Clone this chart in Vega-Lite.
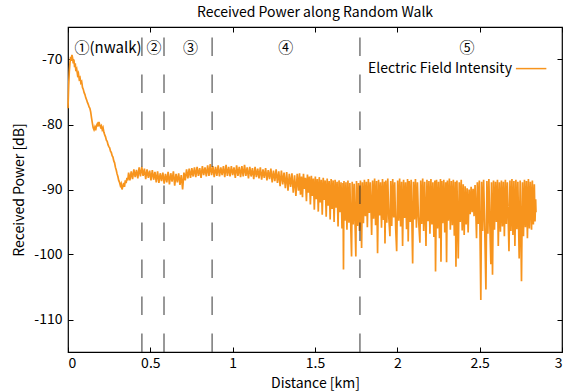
{
"$schema": "https://vega.github.io/schema/vega-lite/v6.json",
"width": 494, "height": 325,
"autosize": {"type": "none"},
"padding": {"left": 68, "top": 27, "right": 12, "bottom": 39},
"title": {"text": "Received Power along Random Walk", "fontSize": 14, "fontWeight": "normal", "offset": 7, "font": "Noto Sans CJK JP", "color": "black"},
"config": {
  "view": {"stroke": "black", "strokeWidth": 1.2},
  "font": "Noto Sans CJK JP",
  "axis": {"grid": false, "domain": false, "tickColor": "black", "tickSize": -5, "tickWidth": 1, "labelFontSize": 14, "labelColor": "black", "labelFont": "Noto Sans CJK JP", "titleFont": "Noto Sans CJK JP", "titleFontSize": 14, "titleFontWeight": "normal", "titleColor": "black"}
},
"resolve": {"axis": {"x": "independent", "y": "independent"}},
"datasets": {
"signal": [
{"km":0,"dB":-77.5},{"km":0.004,"dB":-74},{"km":0.008,"dB":-71.8},{"km":0.012,"dB":-70.5},{"km":0.016,"dB":-69.6},{"km":0.02,"dB":-70.2},{"km":0.024,"dB":-69.3},{"km":0.028,"dB":-69.8},{"km":0.032,"dB":-70.6},{"km":0.036,"dB":-70.0},{"km":0.04,"dB":-71.2},{"km":0.044,"dB":-70.6},{"km":0.048,"dB":-71.8},{"km":0.053,"dB":-71.5},{"km":0.058,"dB":-72.4},{"km":0.063,"dB":-72.1},{"km":0.068,"dB":-73.0},{"km":0.073,"dB":-72.8},{"km":0.078,"dB":-73.6},{"km":0.083,"dB":-73.4},{"km":0.088,"dB":-74.3},{"km":0.093,"dB":-74.6},{"km":0.098,"dB":-75.1},{"km":0.103,"dB":-75.4},{"km":0.108,"dB":-75.9},{"km":0.113,"dB":-76.2},{"km":0.118,"dB":-76.6},{"km":0.123,"dB":-76.9},{"km":0.128,"dB":-77.3},{"km":0.133,"dB":-77.5},{"km":0.138,"dB":-78.1},{"km":0.143,"dB":-79.0},{"km":0.148,"dB":-79.8},{"km":0.153,"dB":-80.5},{"km":0.158,"dB":-80.8},{"km":0.163,"dB":-80.4},{"km":0.168,"dB":-80.9},{"km":0.173,"dB":-80.2},{"km":0.178,"dB":-79.9},{"km":0.183,"dB":-80.3},{"km":0.188,"dB":-79.6},{"km":0.193,"dB":-80.1},{"km":0.198,"dB":-80.4},{"km":0.203,"dB":-80.2},{"km":0.208,"dB":-80.8},{"km":0.213,"dB":-80.5},{"km":0.218,"dB":-81.2},{"km":0.223,"dB":-81.6},{"km":0.228,"dB":-81.9},{"km":0.233,"dB":-82.4},{"km":0.238,"dB":-82.6},{"km":0.243,"dB":-83.1},{"km":0.248,"dB":-83.4},{"km":0.253,"dB":-83.6},{"km":0.258,"dB":-84.1},{"km":0.263,"dB":-84.3},{"km":0.268,"dB":-84.8},{"km":0.273,"dB":-85.0},{"km":0.278,"dB":-85.6},{"km":0.283,"dB":-85.9},{"km":0.288,"dB":-86.6},{"km":0.293,"dB":-87.0},{"km":0.298,"dB":-87.6},{"km":0.303,"dB":-88.0},{"km":0.308,"dB":-88.6},{"km":0.313,"dB":-88.9},{"km":0.318,"dB":-89.4},{"km":0.323,"dB":-89.1},{"km":0.328,"dB":-90.0},{"km":0.333,"dB":-89.5},{"km":0.338,"dB":-89.0},{"km":0.343,"dB":-89.6},{"km":0.348,"dB":-88.6},{"km":0.353,"dB":-89.0},{"km":0.358,"dB":-88.2},{"km":0.363,"dB":-88.6},
{"km":0.368,"dB":-87.4},{"km":0.376,"dB":-88.6},{"km":0.384,"dB":-87.2},{"km":0.392,"dB":-88.4},{"km":0.400,"dB":-86.9},{"km":0.408,"dB":-88.1},{"km":0.416,"dB":-87.0},{"km":0.424,"dB":-88.3},{"km":0.432,"dB":-86.6},{"km":0.440,"dB":-88.0},{"km":0.448,"dB":-86.5},{"km":0.456,"dB":-87.9},{"km":0.464,"dB":-86.8},{"km":0.472,"dB":-88.4},{"km":0.480,"dB":-86.9},{"km":0.488,"dB":-88.2},{"km":0.496,"dB":-87.1},{"km":0.504,"dB":-88.6},{"km":0.512,"dB":-87.0},{"km":0.520,"dB":-88.5},{"km":0.528,"dB":-87.3},{"km":0.536,"dB":-88.9},{"km":0.544,"dB":-87.2},{"km":0.552,"dB":-89.0},{"km":0.560,"dB":-87.5},{"km":0.568,"dB":-88.7},{"km":0.576,"dB":-87.4},{"km":0.584,"dB":-89.1},{"km":0.592,"dB":-87.6},{"km":0.600,"dB":-88.9},{"km":0.608,"dB":-87.3},{"km":0.616,"dB":-89.2},{"km":0.624,"dB":-87.5},{"km":0.632,"dB":-88.8},{"km":0.640,"dB":-87.2},{"km":0.648,"dB":-89.4},{"km":0.656,"dB":-87.6},{"km":0.664,"dB":-88.9},{"km":0.672,"dB":-87.5},{"km":0.680,"dB":-89.3},{"km":0.688,"dB":-87.8},{"km":0.696,"dB":-90.0},{"km":0.704,"dB":-87.4},{"km":0.712,"dB":-88.6},{"km":0.720,"dB":-86.9},{"km":0.728,"dB":-88.3},{"km":0.736,"dB":-86.8},{"km":0.744,"dB":-88.2},{"km":0.752,"dB":-86.7},{"km":0.760,"dB":-88.0},{"km":0.768,"dB":-86.6},{"km":0.776,"dB":-88.1},{"km":0.784,"dB":-86.5},{"km":0.792,"dB":-87.9},{"km":0.800,"dB":-86.7},{"km":0.808,"dB":-88.2},{"km":0.816,"dB":-86.4},{"km":0.824,"dB":-87.8},{"km":0.832,"dB":-86.6},{"km":0.840,"dB":-88.0},{"km":0.848,"dB":-86.3},{"km":0.856,"dB":-87.9},{"km":0.864,"dB":-86.1},{"km":0.872,"dB":-87.8},{"km":0.880,"dB":-86.4},{"km":0.888,"dB":-88.1},{"km":0.896,"dB":-86.5},{"km":0.904,"dB":-87.9},{"km":0.912,"dB":-86.3},{"km":0.920,"dB":-88.0},{"km":0.928,"dB":-86.6},{"km":0.936,"dB":-87.8},{"km":0.944,"dB":-86.4},{"km":0.952,"dB":-88.1},{"km":0.960,"dB":-86.2},{"km":0.968,"dB":-87.9},{"km":0.976,"dB":-86.5},{"km":0.984,"dB":-88.0},{"km":0.992,"dB":-86.4},{"km":1.000,"dB":-87.8},{"km":1.008,"dB":-86.6},{"km":1.016,"dB":-88.2},{"km":1.024,"dB":-86.3},{"km":1.032,"dB":-87.9},{"km":1.040,"dB":-86.5},{"km":1.048,"dB":-88.1},{"km":1.056,"dB":-86.4},{"km":1.064,"dB":-88.0},{"km":1.072,"dB":-86.2},{"km":1.080,"dB":-87.9},{"km":1.088,"dB":-86.6},{"km":1.096,"dB":-88.3},{"km":1.104,"dB":-86.5},{"km":1.112,"dB":-88.0},{"km":1.120,"dB":-86.7},{"km":1.128,"dB":-88.4},{"km":1.136,"dB":-86.5},{"km":1.144,"dB":-88.1},{"km":1.152,"dB":-86.8},{"km":1.160,"dB":-88.3},{"km":1.168,"dB":-86.6},{"km":1.176,"dB":-88.5},{"km":1.184,"dB":-86.9},{"km":1.192,"dB":-88.2},{"km":1.200,"dB":-86.7},{"km":1.208,"dB":-88.6},{"km":1.216,"dB":-87.0},{"km":1.224,"dB":-88.4},{"km":1.232,"dB":-86.8},{"km":1.240,"dB":-88.9},{"km":1.248,"dB":-87.1},{"km":1.256,"dB":-88.7},{"km":1.264,"dB":-86.9},{"km":1.272,"dB":-89.0},{"km":1.280,"dB":-87.2},{"km":1.288,"dB":-89.5},{"km":1.296,"dB":-87.1},{"km":1.304,"dB":-89.2},{"km":1.312,"dB":-87.4},{"km":1.320,"dB":-89.8},{"km":1.328,"dB":-87.3},{"km":1.336,"dB":-90.2},{"km":1.344,"dB":-87.6},{"km":1.352,"dB":-89.6},{"km":1.360,"dB":-87.5},{"km":1.368,"dB":-90.5},{"km":1.376,"dB":-87.8},{"km":1.384,"dB":-91.0},{"km":1.392,"dB":-87.6},{"km":1.400,"dB":-90.2},
{"km":1.406,"dB":-87.5},{"km":1.412,"dB":-90.8},{"km":1.418,"dB":-88.0},{"km":1.424,"dB":-91.2},{"km":1.430,"dB":-87.6},{"km":1.436,"dB":-89.9},{"km":1.442,"dB":-88.2},{"km":1.448,"dB":-91.8},{"km":1.454,"dB":-87.7},{"km":1.460,"dB":-90.5},{"km":1.466,"dB":-88.0},{"km":1.472,"dB":-92.3},{"km":1.478,"dB":-87.9},{"km":1.484,"dB":-91.0},{"km":1.490,"dB":-88.3},{"km":1.496,"dB":-93.1},{"km":1.502,"dB":-88.0},{"km":1.508,"dB":-91.5},{"km":1.514,"dB":-88.4},{"km":1.520,"dB":-93.4},{"km":1.526,"dB":-88.1},{"km":1.532,"dB":-92.0},{"km":1.538,"dB":-88.5},{"km":1.544,"dB":-93.9},{"km":1.550,"dB":-88.2},{"km":1.556,"dB":-91.6},{"km":1.562,"dB":-88.6},{"km":1.568,"dB":-94.2},{"km":1.574,"dB":-88.3},{"km":1.580,"dB":-92.5},{"km":1.586,"dB":-88.7},{"km":1.592,"dB":-94.6},{"km":1.598,"dB":-88.4},{"km":1.604,"dB":-93.0},{"km":1.610,"dB":-88.6},{"km":1.616,"dB":-95.0},{"km":1.622,"dB":-88.5},{"km":1.628,"dB":-92.8},{"km":1.634,"dB":-88.8},{"km":1.640,"dB":-95.7},{"km":1.646,"dB":-88.6},{"km":1.652,"dB":-93.5},{"km":1.658,"dB":-88.9},{"km":1.664,"dB":-96.0},{"km":1.670,"dB":-89.0},{"km":1.673,"dB":-102.3},{"km":1.676,"dB":-88.7},{"km":1.682,"dB":-94.8},{"km":1.688,"dB":-88.9},{"km":1.694,"dB":-96.2},{"km":1.700,"dB":-88.6},{"km":1.706,"dB":-95.1},{"km":1.712,"dB":-89.0},{"km":1.718,"dB":-96.5},{"km":1.722,"dB":-100.3},{"km":1.726,"dB":-88.8},{"km":1.732,"dB":-95.4},{"km":1.738,"dB":-89.1},{"km":1.744,"dB":-96.0},{"km":1.748,"dB":-100.3},{"km":1.752,"dB":-88.7},{"km":1.758,"dB":-95.6},{"km":1.764,"dB":-89.0},{"km":1.770,"dB":-96.4},
{"km":1.776,"dB":-88.6},{"km":1.783,"dB":-99.0},{"km":1.788,"dB":-88.9},{"km":1.794,"dB":-95.2},{"km":1.800,"dB":-88.5},{"km":1.806,"dB":-94.1},{"km":1.812,"dB":-88.8},{"km":1.818,"dB":-95.8},{"km":1.824,"dB":-88.4},{"km":1.830,"dB":-93.6},{"km":1.836,"dB":-88.9},{"km":1.844,"dB":-97.0},{"km":1.850,"dB":-88.6},{"km":1.856,"dB":-94.5},{"km":1.862,"dB":-88.3},{"km":1.868,"dB":-95.5},{"km":1.874,"dB":-88.7},{"km":1.880,"dB":-99.8},{"km":1.886,"dB":-88.5},{"km":1.892,"dB":-94.0},{"km":1.898,"dB":-88.9},{"km":1.904,"dB":-95.9},{"km":1.910,"dB":-88.4},{"km":1.916,"dB":-94.7},{"km":1.922,"dB":-88.8},{"km":1.925,"dB":-98.3},{"km":1.930,"dB":-88.6},{"km":1.936,"dB":-95.1},{"km":1.942,"dB":-88.3},{"km":1.948,"dB":-94.2},{"km":1.955,"dB":-97.2},{"km":1.960,"dB":-88.7},{"km":1.966,"dB":-95.6},{"km":1.972,"dB":-88.4},{"km":1.978,"dB":-94.3},{"km":1.984,"dB":-88.9},{"km":1.990,"dB":-96.0},{"km":1.996,"dB":-99.5},{"km":2.002,"dB":-88.6},{"km":2.008,"dB":-94.8},{"km":2.014,"dB":-88.3},{"km":2.020,"dB":-95.7},{"km":2.026,"dB":-88.8},{"km":2.032,"dB":-98.7},{"km":2.038,"dB":-88.5},{"km":2.044,"dB":-94.4},{"km":2.050,"dB":-88.9},{"km":2.056,"dB":-96.1},{"km":2.062,"dB":-88.4},{"km":2.066,"dB":-98.0},{"km":2.072,"dB":-88.7},{"km":2.078,"dB":-95.0},{"km":2.084,"dB":-88.5},{"km":2.093,"dB":-101.4},{"km":2.098,"dB":-88.8},{"km":2.104,"dB":-94.6},{"km":2.110,"dB":-88.4},{"km":2.116,"dB":-95.9},{"km":2.122,"dB":-88.9},{"km":2.128,"dB":-94.2},{"km":2.137,"dB":-98.2},{"km":2.142,"dB":-88.6},{"km":2.148,"dB":-95.3},{"km":2.154,"dB":-88.3},{"km":2.160,"dB":-96.4},{"km":2.166,"dB":-88.8},{"km":2.174,"dB":-98.7},{"km":2.180,"dB":-88.5},{"km":2.186,"dB":-94.9},{"km":2.192,"dB":-88.7},{"km":2.198,"dB":-96.8},{"km":2.204,"dB":-88.4},{"km":2.210,"dB":-95.4},{"km":2.216,"dB":-88.9},{"km":2.222,"dB":-97.3},{"km":2.228,"dB":-88.6},{"km":2.232,"dB":-102.6},{"km":2.238,"dB":-88.5},{"km":2.244,"dB":-96.0},{"km":2.250,"dB":-88.8},{"km":2.256,"dB":-97.5},{"km":2.262,"dB":-88.4},{"km":2.265,"dB":-101.1},{"km":2.270,"dB":-88.7},{"km":2.276,"dB":-95.2},{"km":2.282,"dB":-88.5},{"km":2.288,"dB":-96.6},{"km":2.294,"dB":-88.9},{"km":2.299,"dB":-101.2},{"km":2.304,"dB":-88.6},{"km":2.310,"dB":-94.8},{"km":2.316,"dB":-88.3},{"km":2.322,"dB":-96.2},{"km":2.328,"dB":-88.7},{"km":2.334,"dB":-95.5},{"km":2.340,"dB":-88.5},{"km":2.346,"dB":-97.1},{"km":2.352,"dB":-88.8},{"km":2.356,"dB":-101.9},{"km":2.362,"dB":-88.6},{"km":2.370,"dB":-100.6},{"km":2.376,"dB":-88.9},{"km":2.382,"dB":-95.0},{"km":2.388,"dB":-88.5},{"km":2.394,"dB":-96.3},{"km":2.400,"dB":-89.2},{"km":2.406,"dB":-97.0},{"km":2.412,"dB":-89.5},{"km":2.418,"dB":-95.4},{"km":2.424,"dB":-89.8},{"km":2.430,"dB":-96.6},{"km":2.436,"dB":-90.0},{"km":2.442,"dB":-93.8},{"km":2.448,"dB":-89.6},{"km":2.454,"dB":-93.5},{"km":2.460,"dB":-89.9},{"km":2.466,"dB":-94.1},{"km":2.472,"dB":-89.3},{"km":2.481,"dB":-97.5},{"km":2.486,"dB":-88.9},{"km":2.492,"dB":-95.3},{"km":2.498,"dB":-88.6},{"km":2.507,"dB":-107.0},{"km":2.512,"dB":-88.8},{"km":2.518,"dB":-96.4},{"km":2.524,"dB":-88.5},{"km":2.530,"dB":-95.1},{"km":2.538,"dB":-105.4},{"km":2.544,"dB":-88.7},{"km":2.550,"dB":-96.8},{"km":2.556,"dB":-88.4},{"km":2.562,"dB":-95.6},{"km":2.568,"dB":-101.5},{"km":2.572,"dB":-88.9},{"km":2.578,"dB":-103.1},{"km":2.584,"dB":-88.6},{"km":2.590,"dB":-96.2},{"km":2.596,"dB":-88.8},{"km":2.602,"dB":-95.0},{"km":2.608,"dB":-88.5},{"km":2.613,"dB":-98.7},{"km":2.620,"dB":-88.9},{"km":2.626,"dB":-96.5},{"km":2.632,"dB":-88.6},{"km":2.638,"dB":-95.7},{"km":2.644,"dB":-88.8},{"km":2.650,"dB":-97.2},{"km":2.656,"dB":-88.5},{"km":2.662,"dB":-95.3},{"km":2.668,"dB":-88.9},{"km":2.678,"dB":-99.5},{"km":2.684,"dB":-88.6},{"km":2.690,"dB":-96.4},{"km":2.696,"dB":-88.4},{"km":2.702,"dB":-97.0},{"km":2.708,"dB":-88.7},{"km":2.714,"dB":-98.7},{"km":2.720,"dB":-88.5},{"km":2.726,"dB":-96.1},{"km":2.732,"dB":-88.8},{"km":2.740,"dB":-100.6},{"km":2.746,"dB":-88.6},{"km":2.754,"dB":-104.1},{"km":2.760,"dB":-88.9},{"km":2.766,"dB":-97.2},{"km":2.772,"dB":-88.5},{"km":2.778,"dB":-95.8},{"km":2.784,"dB":-88.7},{"km":2.790,"dB":-97.5},{"km":2.796,"dB":-88.4},{"km":2.802,"dB":-96.0},{"km":2.808,"dB":-88.8},{"km":2.815,"dB":-96.2},{"km":2.820,"dB":-88.6},{"km":2.826,"dB":-95.4},{"km":2.832,"dB":-89.2},{"km":2.836,"dB":-94.9},{"km":2.840,"dB":-91.5},{"km":2.842,"dB":-93.5}
],
"bounds": [{"km":0.449},{"km":0.583},{"km":0.875},{"km":1.773}],
"labels": [
{"label":"①(nwalk)","km":0.243,"dB":-68.3},
{"label":"②","km":0.522,"dB":-68.3},
{"label":"③","km":0.744,"dB":-68.3},
{"label":"④","km":1.322,"dB":-68.3},
{"label":"⑤","km":2.423,"dB":-68.3}
],
"legend": [{"series":"Electric Field Intensity","km":2.696,"start":2.72,"end":2.905,"dB":-71.4}]
},
"layer": [
{
  "data": {"name": "signal"},
  "mark": {"type": "line", "color": "#F7941D", "strokeWidth": 1.7},
  "encoding": {
    "x": {"field": "km", "type": "quantitative", "scale": {"domain": [0, 3], "nice": false, "zero": false},
          "axis": {"orient": "bottom", "values": [0, 0.5, 1, 1.5, 2, 2.5, 3], "format": "~g", "title": "Distance [km]", "labelPadding": 9, "titlePadding": 6}},
    "y": {"field": "dB", "type": "quantitative", "scale": {"domain": [-115, -65], "nice": false, "zero": false},
          "axis": {"orient": "left", "values": [-110, -100, -90, -80, -70], "labelExpr": "datum.value + ''", "title": "Received Power [dB]", "labelPadding": 11, "titlePadding": 7}}
  }
},
{
  "data": {"name": "bounds"},
  "mark": {"type": "rule", "color": "#333333", "strokeWidth": 1, "strokeDash": [18.5, 18.5]},
  "encoding": {
    "x": {"field": "km", "type": "quantitative", "axis": {"orient": "top", "values": [0, 0.5, 1, 1.5, 2, 2.5, 3], "labels": false, "title": null}},
    "y": {"datum": -115, "type": "quantitative", "axis": {"orient": "right", "values": [-110, -100, -90, -80, -70], "labels": false, "title": null}},
    "y2": {"datum": -65}
  }
},
{
  "data": {"name": "labels"},
  "mark": {"type": "text", "fontSize": 15, "font": "Noto Sans CJK JP", "color": "black", "align": "center", "baseline": "middle"},
  "encoding": {
    "x": {"field": "km", "type": "quantitative", "axis": null},
    "y": {"field": "dB", "type": "quantitative", "axis": null},
    "text": {"field": "label"}
  }
},
{
  "data": {"name": "legend"},
  "mark": {"type": "text", "fontSize": 14, "font": "Noto Sans CJK JP", "color": "black", "align": "right", "baseline": "middle"},
  "encoding": {
    "x": {"field": "km", "type": "quantitative", "axis": null},
    "y": {"field": "dB", "type": "quantitative", "axis": null},
    "text": {"field": "series"}
  }
},
{
  "data": {"name": "legend"},
  "mark": {"type": "rule", "color": "#F7941D", "strokeWidth": 1.5},
  "encoding": {
    "x": {"field": "start", "type": "quantitative", "axis": null},
    "x2": {"field": "end"},
    "y": {"field": "dB", "type": "quantitative", "axis": null}
  }
}
]
}
